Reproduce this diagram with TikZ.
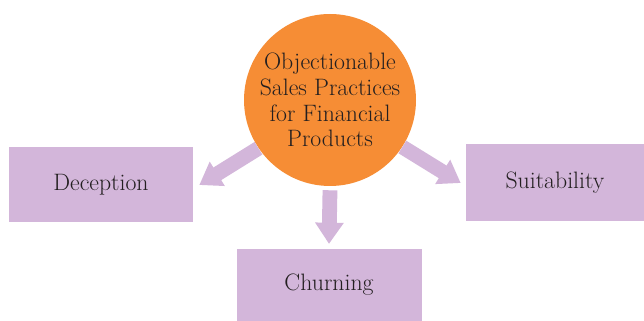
\documentclass[tikz,border=0pt]{standalone}
\usepackage{tikz}
\usetikzlibrary{arrows.meta, positioning, calc}
\usepackage{xcolor}
\definecolor{hubcolor}{HTML}{F68D35}
\definecolor{boxcolor}{HTML}{D3B6DA}
\definecolor{inkcolor}{HTML}{231F20}

\begin{document}
\begin{tikzpicture}[
    box/.style={rectangle, fill=boxcolor, inner sep=0pt, text=inkcolor,
                font=\fontsize{16.9}{18.3}\selectfont},
    hub/.style={circle, fill=hubcolor, inner sep=0pt, minimum size=4.3cm, align=center,
                text=inkcolor, font=\fontsize{16.9}{18.3}\selectfont},
    blockarrow/.style={draw=boxcolor, line width=0.37cm,
                -{Triangle[length=0.53cm, width=0.68cm]}},
]
\useasboundingbox (0,0) rectangle (16.1,8.025);

% Centre
\node[hub] (practices) at (8.25,5.525) {Objectionable\\Sales Practices\\for Financial\\Products};

% Boxes
\node[box, minimum width=4.6cm, minimum height=1.875cm] (deception) at (2.525,3.4) {Deception};
\node[box, minimum width=4.45cm, minimum height=1.925cm] (suitability) at (13.875,3.45) {Suitability};
\node[box, minimum width=4.625cm, minimum height=1.8cm] (churning) at (8.225,0.9) {Churning};

% Arrows
\draw[blockarrow] (practices.214) -- ([xshift=0.15cm]deception.east);
\draw[blockarrow] ([yshift=-0.1cm]practices.south) -- ([yshift=0.12cm]churning.north);
\draw[blockarrow] (practices.-33) -- ([xshift=-0.125cm]suitability.west);

\end{tikzpicture}
\end{document}
